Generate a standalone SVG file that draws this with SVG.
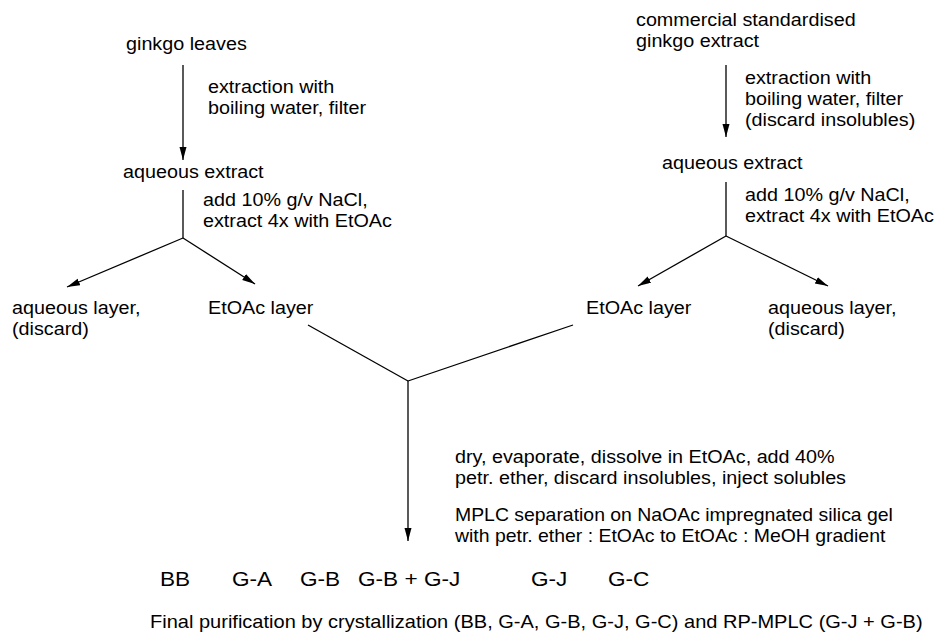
<svg xmlns="http://www.w3.org/2000/svg" width="938" height="637" viewBox="0 0 938 637">
<style>
text{font-family:"Liberation Sans",Arial,sans-serif;font-size:17.5px;fill:#000}
.lab{font-size:20px}
.fin{font-size:18px}
.c line{stroke:#000;stroke-width:1.3;fill:none}
</style>
<defs>
<marker id="ah" markerUnits="userSpaceOnUse" markerWidth="15" markerHeight="10" refX="13" refY="3.5" orient="auto">
<path d="M0,0 L13,3.5 L0,7 Z" fill="#000"/>
</marker>
</defs>
<rect width="938" height="637" fill="#fff"/>
<g class="c" id="connectors">
<line x1="183" y1="65" x2="183" y2="160" marker-end="url(#ah)"/>
<line x1="183" y1="190" x2="183" y2="238"/>
<line x1="183" y1="238" x2="67" y2="287" marker-end="url(#ah)"/>
<line x1="183" y1="238" x2="255" y2="284" marker-end="url(#ah)"/>
<line x1="726" y1="65" x2="726" y2="137" marker-end="url(#ah)"/>
<line x1="726" y1="182" x2="726" y2="236"/>
<line x1="726" y1="236" x2="638" y2="286" marker-end="url(#ah)"/>
<line x1="726" y1="236" x2="828" y2="286" marker-end="url(#ah)"/>
<line x1="308" y1="325" x2="408" y2="381"/>
<line x1="573" y1="325" x2="408" y2="381"/>
<line x1="408" y1="381" x2="408" y2="541" marker-end="url(#ah)"/>
</g>
<g id="ginkgo-leaves"><text transform="translate(126,50) scale(1.13,1)">ginkgo leaves</text></g>
<g id="step-left-1"><text transform="translate(208,93) scale(1.13,1)">extraction with</text><text transform="translate(208,114) scale(1.13,1)">boiling water, filter</text></g>
<g id="aqueous-extract-left"><text transform="translate(123,178) scale(1.13,1)">aqueous extract</text></g>
<g id="step-left-2"><text transform="translate(203,206) scale(1.13,1)">add 10% g/v NaCl,</text><text transform="translate(203,227) scale(1.13,1)">extract 4x with EtOAc</text></g>
<g id="aqueous-layer-left"><text transform="translate(12,314) scale(1.13,1)">aqueous layer,</text><text transform="translate(12,335) scale(1.13,1)">(discard)</text></g>
<g id="etoac-layer-left"><text transform="translate(208,314) scale(1.13,1)">EtOAc layer</text></g>
<g id="commercial-extract"><text transform="translate(636,26) scale(1.13,1)">commercial standardised</text><text transform="translate(636,47) scale(1.13,1)">ginkgo extract</text></g>
<g id="step-right-1"><text transform="translate(745,84) scale(1.13,1)">extraction with</text><text transform="translate(745,105) scale(1.13,1)">boiling water, filter</text><text transform="translate(745,126) scale(1.13,1)">(discard insolubles)</text></g>
<g id="aqueous-extract-right"><text transform="translate(662,169) scale(1.13,1)">aqueous extract</text></g>
<g id="step-right-2"><text transform="translate(745,201) scale(1.13,1)">add 10% g/v NaCl,</text><text transform="translate(745,222) scale(1.13,1)">extract 4x with EtOAc</text></g>
<g id="etoac-layer-right"><text transform="translate(586,314) scale(1.13,1)">EtOAc layer</text></g>
<g id="aqueous-layer-right"><text transform="translate(768,314) scale(1.13,1)">aqueous layer,</text><text transform="translate(768,335) scale(1.13,1)">(discard)</text></g>
<g id="step-mplc"><text transform="translate(455,463) scale(1.13,1)">dry, evaporate, dissolve in EtOAc, add 40%</text><text transform="translate(455,484) scale(1.13,1)">petr. ether, discard insolubles, inject solubles</text><text transform="translate(455,521) scale(1.11,1)">MPLC separation on NaOAc impregnated silica gel</text><text transform="translate(455,542) scale(1.11,1)">with petr. ether : EtOAc to EtOAc : MeOH gradient</text></g>
<g id="products"><text class="lab" transform="translate(160,586) scale(1.13,1)">BB</text><text class="lab" transform="translate(232,586) scale(1.13,1)">G-A</text><text class="lab" transform="translate(300,586) scale(1.13,1)">G-B</text><text class="lab" transform="translate(358,586) scale(1.13,1)">G-B + G-J</text><text class="lab" transform="translate(531,586) scale(1.13,1)">G-J</text><text class="lab" transform="translate(608,586) scale(1.13,1)">G-C</text></g>
<g id="final-purification"><text class="fin" transform="translate(150,628) scale(1.113,1)">Final purification by crystallization (BB, G-A, G-B, G-J, G-C) and RP-MPLC (G-J + G-B)</text></g>
</svg>
